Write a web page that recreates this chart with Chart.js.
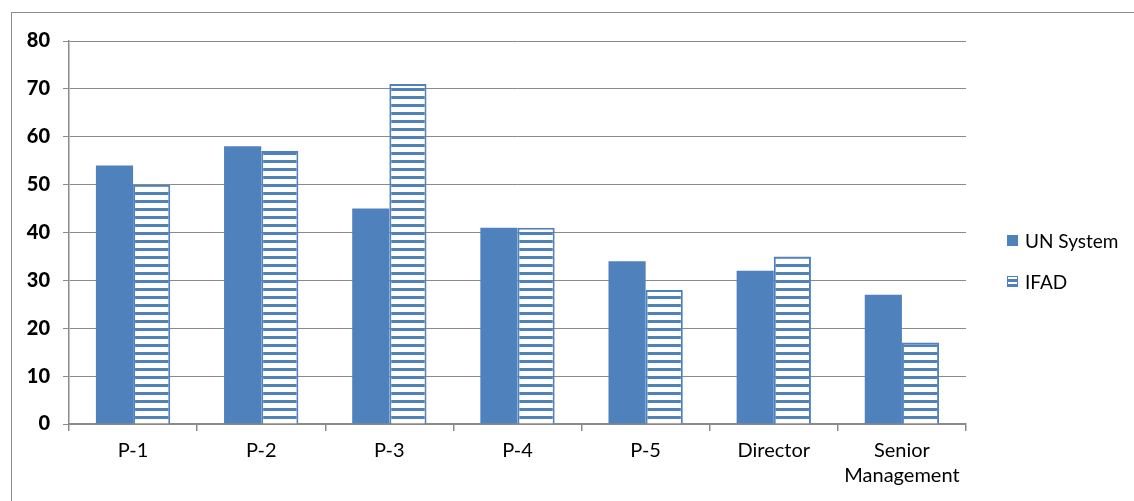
<!DOCTYPE html>
<html>
<head>
<meta charset="utf-8">
<script src="https://cdn.jsdelivr.net/npm/chart.js@4.4.1/dist/chart.umd.min.js"></script>
<style>
    html, body { margin: 0; padding: 0; background: #fff; }
    #wrap { position: relative; width: 1134px; height: 501px; overflow: hidden; }
    #frame {
        position: absolute; left: 11px; top: 12px; width: 1200px; height: 600px;
        border-top: 1.5px solid #8c8c8c; border-left: 1.5px solid #8c8c8c;
    }
    #chart { position: absolute; left: 0; top: 0; }
    .legend { position: absolute; left: 1007px; font-family: Lato, sans-serif; font-size: 19px; color: #000; }
    .legend .item { display: flex; align-items: center; height: 20px; }
    .legend .swatch { width: 11px; height: 11px; margin-right: 7px; box-sizing: border-box; }
    .sw-un { background: #4f81bd; }
    .sw-ifad {
        border: 1.5px solid #4f81bd;
        background: repeating-linear-gradient(to bottom, #fff 0px, #fff 2px, #4f81bd 2px, #4f81bd 5px);
    }
</style>
</head>
<body>
<div id="wrap">
    <div id="frame"></div>
    <canvas id="chart" width="1134" height="501"></canvas>
    <div class="legend" style="top:230px">
        <div class="item"><span class="swatch sw-un"></span>UN System</div>
    </div>
    <div class="legend" style="top:271px">
        <div class="item"><span class="swatch sw-ifad"></span>IFAD</div>
    </div>
</div>
<script>
// Grade levels and percentages
const categories = ['P-1', 'P-2', 'P-3', 'P-4', 'P-5', 'Director', ['Senior', 'Management']];
const unSystem = [54, 58, 45, 41, 34, 32, 27];
const ifad = [50, 57, 71, 41, 28, 35, 17];
const yTicks = [0, 10, 20, 30, 40, 50, 60, 70, 80];

const BLUE = '#4f81bd';
const GRID = '#8a8a8a';

// horizontal stripe fill for the IFAD bars
function stripePattern() {
    const c = document.createElement('canvas');
    c.width = 8;
    c.height = 8;
    const g = c.getContext('2d');
    g.fillStyle = '#ffffff';
    g.fillRect(0, 0, 8, 8);
    g.fillStyle = BLUE;
    g.fillRect(0, 0, 8, 3);
    return g.createPattern(c, 'repeat');
}

const ctx = document.getElementById('chart');

new Chart(ctx, {
    type: 'bar',
    data: {
        labels: categories,
        datasets: [
            {
                label: 'UN System',
                data: unSystem,
                backgroundColor: BLUE,
                borderWidth: 0,
                barPercentage: 1,
                categoryPercentage: 0.58
            },
            {
                label: 'IFAD',
                data: ifad,
                backgroundColor: stripePattern(),
                borderColor: BLUE,
                borderWidth: 2,
                barPercentage: 1,
                categoryPercentage: 0.58
            }
        ]
    },
    options: {
        responsive: false,
        animation: false,
        layout: {
            padding: { top: 41, right: 168, bottom: 0, left: 0 }
        },
        plugins: {
            legend: { display: false },
            tooltip: { enabled: false }
        },
        scales: {
            y: {
                min: 0,
                max: 80,
                afterBuildTicks: (scale) => {
                    scale.ticks = yTicks.map(v => ({ value: v }));
                },
                afterFit: (scale) => { scale.width = 69; },
                grid: { color: GRID, lineWidth: 1, tickLength: 6 },
                border: { display: true, color: GRID, width: 1.5 },
                ticks: {
                    color: '#000',
                    padding: 13,
                    font: { family: 'Lato', size: 20, weight: '900' }
                }
            },
            x: {
                afterFit: (scale) => { scale.height = 77; },
                grid: { display: true, drawOnChartArea: false, drawTicks: true, tickLength: 7, color: GRID, lineWidth: 1.5 },
                border: { display: true, color: GRID, width: 1.5 },
                ticks: {
                    color: '#000',
                    padding: 7,
                    maxRotation: 0,
                    autoSkip: false,
                    font: { family: 'Lato', size: 20, lineHeight: 1.25 }
                }
            }
        }
    }
});
</script>
</body>
</html>
